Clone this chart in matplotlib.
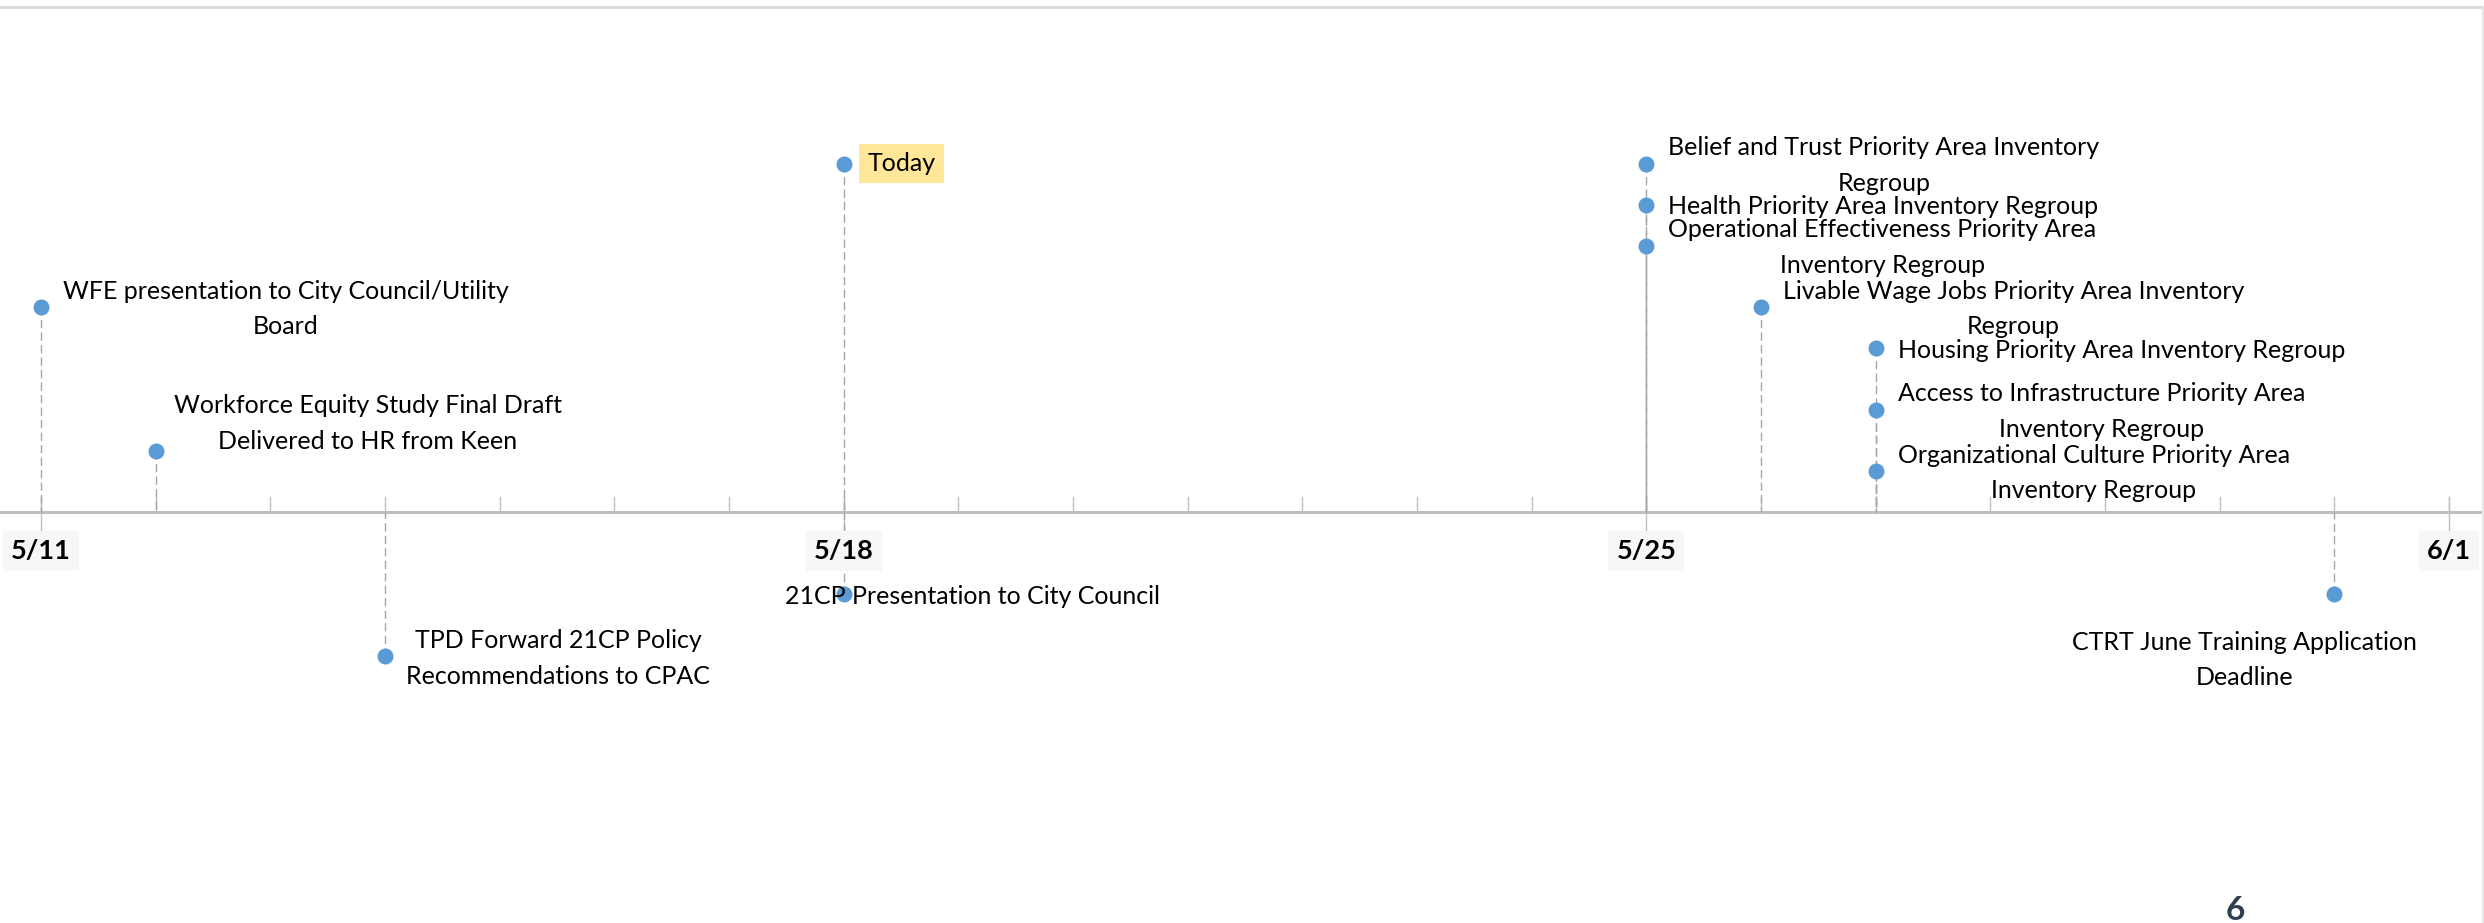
import numpy as np
import matplotlib
matplotlib.use("Agg")
import matplotlib.pyplot as plt
import matplotlib.dates as mdates
from matplotlib.lines import Line2D

plt.rcParams['font.family'] = ['Lato', 'DejaVu Sans']

# events: date, height above (or below) the axis, label
dates = ['2020-05-11', '2020-05-12', '2020-05-14', '2020-05-18', '2020-05-18',
         '2020-05-25', '2020-05-25', '2020-05-25', '2020-05-26',
         '2020-05-27', '2020-05-27', '2020-05-27', '2020-05-31']
heights = [10, 3, -7, 17, -4, 17, 15, 13, 10, 8, 5, 2, -4]
labels = ['WFE presentation to City Council/Utility\nBoard',
          'Workforce Equity Study Final Draft\nDelivered to HR from Keen',
          'TPD Forward 21CP Policy\nRecommendations to CPAC',
          'Today',
          '21CP Presentation to City Council',
          'Belief and Trust Priority Area Inventory\nRegroup',
          'Health Priority Area Inventory Regroup',
          'Operational Effectiveness Priority Area\nInventory Regroup',
          'Livable Wage Jobs Priority Area Inventory\nRegroup',
          'Housing Priority Area Inventory Regroup',
          'Access to Infrastructure Priority Area\nInventory Regroup',
          'Organizational Culture Priority Area\nInventory Regroup',
          'CTRT June Training Application\nDeadline']
major_ticks = ['2020-05-11', '2020-05-18', '2020-05-25', '2020-06-01']
tick_labels = ['5/11', '5/18', '5/25', '6/1']

x = mdates.date2num(np.array(dates, dtype='datetime64[D]'))
start = mdates.date2num(np.datetime64('2020-05-11'))
end = mdates.date2num(np.datetime64('2020-06-01'))

W, H = 2484, 923
fig = plt.figure(figsize=(W / 100, H / 100), dpi=100)
ax = fig.add_axes([0, 0, 1, 1])

px_day = (2449 - 41) / 21.0
ax.set_xlim(start - 41 / px_day, end + (W - 2449) / px_day)
unit = 20.5
ax.set_ylim(-(H - 512) / unit, 512 / unit)
ax.axis('off')

grey = '#BFBFBF'
blue = '#5B9BD5'
ax.axhline(0, color=grey, lw=2.2, zorder=1)

# day ticks (up) and week ticks (through)
for d in np.arange(start, end + 1):
    ax.plot([d, d], [0, 0.75], color=grey, lw=1.0, zorder=1)
for d in mdates.date2num(np.array(major_ticks, dtype='datetime64[D]')):
    ax.plot([d, d], [-1.05, 0.75], color=grey, lw=1.0, zorder=1)

# stems start at the marker and run down to the axis
for xi, h in zip(x, heights):
    ax.plot([xi, xi], [h, 0], color='#A6A6A6', lw=1.0, ls=(0, (6, 3)), zorder=2)
ax.plot(x, heights, 'o', color=blue, ms=10.5, mec=blue, zorder=3)

# label placement (pixel offsets from the marker)
for xi, h, lab in zip(x, heights, labels):
    kw = dict(xy=(xi, h), textcoords='offset pixels', fontsize=18,
              va='center', ma='center', color='black', zorder=4, linespacing=1.65)
    if lab == 'Today':
        ax.annotate(lab, xytext=(24, 0), ha='left',
                    bbox=dict(boxstyle='square,pad=0.33', fc='#FFE699', ec='none'), **kw)
    elif lab.startswith('21CP'):
        ax.annotate(lab, xytext=(-59, -3), ha='left', **kw)
    elif lab.startswith('CTRT'):
        ax.annotate(lab, xytext=(-90, -66), ha='center', **kw)
    elif lab.startswith('TPD'):
        ax.annotate(lab, xytext=(21, -3), ha='left', **kw)
    elif lab.startswith('Workforce'):
        ax.annotate(lab, xytext=(18, 27), ha='left', **kw)
    else:
        ax.annotate(lab, xytext=(22, -2), ha='left', **kw)

for d, t in zip(mdates.date2num(np.array(major_ticks, dtype='datetime64[D]')), tick_labels):
    ax.text(d, -39 / unit, t, ha='center', va='center', fontsize=19.5,
            fontweight='bold', color='black',
            bbox=dict(boxstyle='square,pad=0.3', fc='#F7F7F7', ec='none'))

# chart frame remnants and page number
fig.add_artist(Line2D([0, 1], [1 - 7 / H, 1 - 7 / H], color='#D9D9D9', lw=2))
fig.add_artist(Line2D([1 - 1.5 / W, 1 - 1.5 / W], [0, 1 - 7 / H], color='#E6E6E6', lw=1.5))
fig.text(2235 / W, 1 - 896 / H, '6', ha='center', va='top', fontsize=24,
         fontweight='bold', color='#2F3E51')

fig.savefig('out.png', dpi=100)
